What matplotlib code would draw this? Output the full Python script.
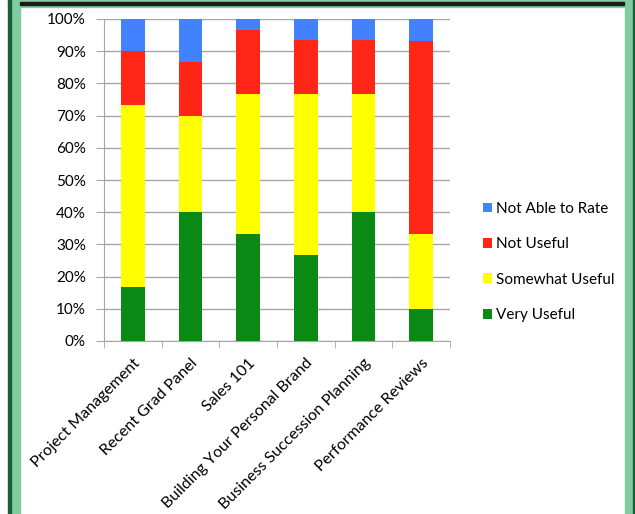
import matplotlib
matplotlib.use('Agg')
import matplotlib.pyplot as plt
from matplotlib.patches import Rectangle
import numpy as np

categories = ['Project Management', 'Recent Grad Panel', 'Sales 101',
              'Building Your Personal Brand', 'Business Succession Planning',
              'Performance Reviews']
very_useful = [16.7, 40.0, 33.3, 26.7, 40.0, 10.0]
somewhat_useful = [56.7, 30.0, 43.3, 50.0, 36.7, 23.3]
not_useful = [16.7, 16.7, 20.0, 16.7, 16.7, 60.0]
not_able = [10.0, 13.3, 3.3, 6.7, 6.7, 6.7]

series = [('Very Useful', very_useful, '#0A8A14'),
          ('Somewhat Useful', somewhat_useful, '#FFFF00'),
          ('Not Useful', not_useful, '#FF2618'),
          ('Not Able to Rate', not_able, '#4282FF')]

plt.rcParams['font.family'] = ['Lato', 'DejaVu Sans']

fig = plt.figure(figsize=(6.35, 5.14), dpi=100)

# green frame around the picture
light = '#80CBA0'
dark = '#1D5C3A'
fig.patches.append(Rectangle((11/635, 0), 9/635, 1, transform=fig.transFigure, color=light, zorder=0))
fig.patches.append(Rectangle((8/635, 0), 3/635, 1, transform=fig.transFigure, color=dark, zorder=1))
fig.patches.append(Rectangle((625/635, 0), 10/635, 1, transform=fig.transFigure, color=light, zorder=0))
fig.patches.append(Rectangle((633/635, 0), 2/635, 1, transform=fig.transFigure, color=dark, zorder=1))
fig.patches.append(Rectangle((8/635, 1 - 7/514), 627/635, 7/514, transform=fig.transFigure, color=light, zorder=0))
fig.patches.append(Rectangle((20/635, 1 - 5/514), 604/635, 3/514, transform=fig.transFigure, color='#1a1a1a', zorder=1))

ax = fig.add_axes([104/635, 1 - 341/514, 346/635, 322/514])
x = np.arange(len(categories))
bottom = np.zeros(len(categories))
for name, vals, col in series:
    ax.bar(x, vals, 0.41, bottom=bottom, color=col, label=name, zorder=3)
    bottom += np.array(vals)

ax.set_xlim(-0.5, len(categories) - 0.5)
ax.set_ylim(0, 100)
ax.set_yticks(np.arange(0, 101, 10))
ax.set_yticklabels(['{}%'.format(v) for v in range(0, 101, 10)], fontsize=11)
ax.yaxis.grid(True, color='#a6a6a6', linewidth=1, zorder=0)
ax.tick_params(axis='y', length=6, color='#a6a6a6', pad=7)

ax.set_xticks(x)
ax.set_xticklabels(categories, rotation=45, ha='right', rotation_mode='anchor', fontsize=11.5)
ax.tick_params(axis='x', length=0, pad=11)
ax.set_xticks(np.arange(-0.5, len(categories), 1), minor=True)
ax.tick_params(axis='x', which='minor', length=5, color='#a6a6a6')

for s in ['top', 'right']:
    ax.spines[s].set_visible(False)
for s in ['left', 'bottom']:
    ax.spines[s].set_color('#a6a6a6')

handles, labels = ax.get_legend_handles_labels()
fig.legend(handles[::-1], labels[::-1], loc='center left',
           bbox_to_anchor=(469/635, 1 - 262/514), frameon=False,
           fontsize=11, handlelength=0.6, handleheight=0.6,
           handletextpad=0.3, labelspacing=1.4)

fig.savefig('out.png', dpi=100, facecolor='white')
